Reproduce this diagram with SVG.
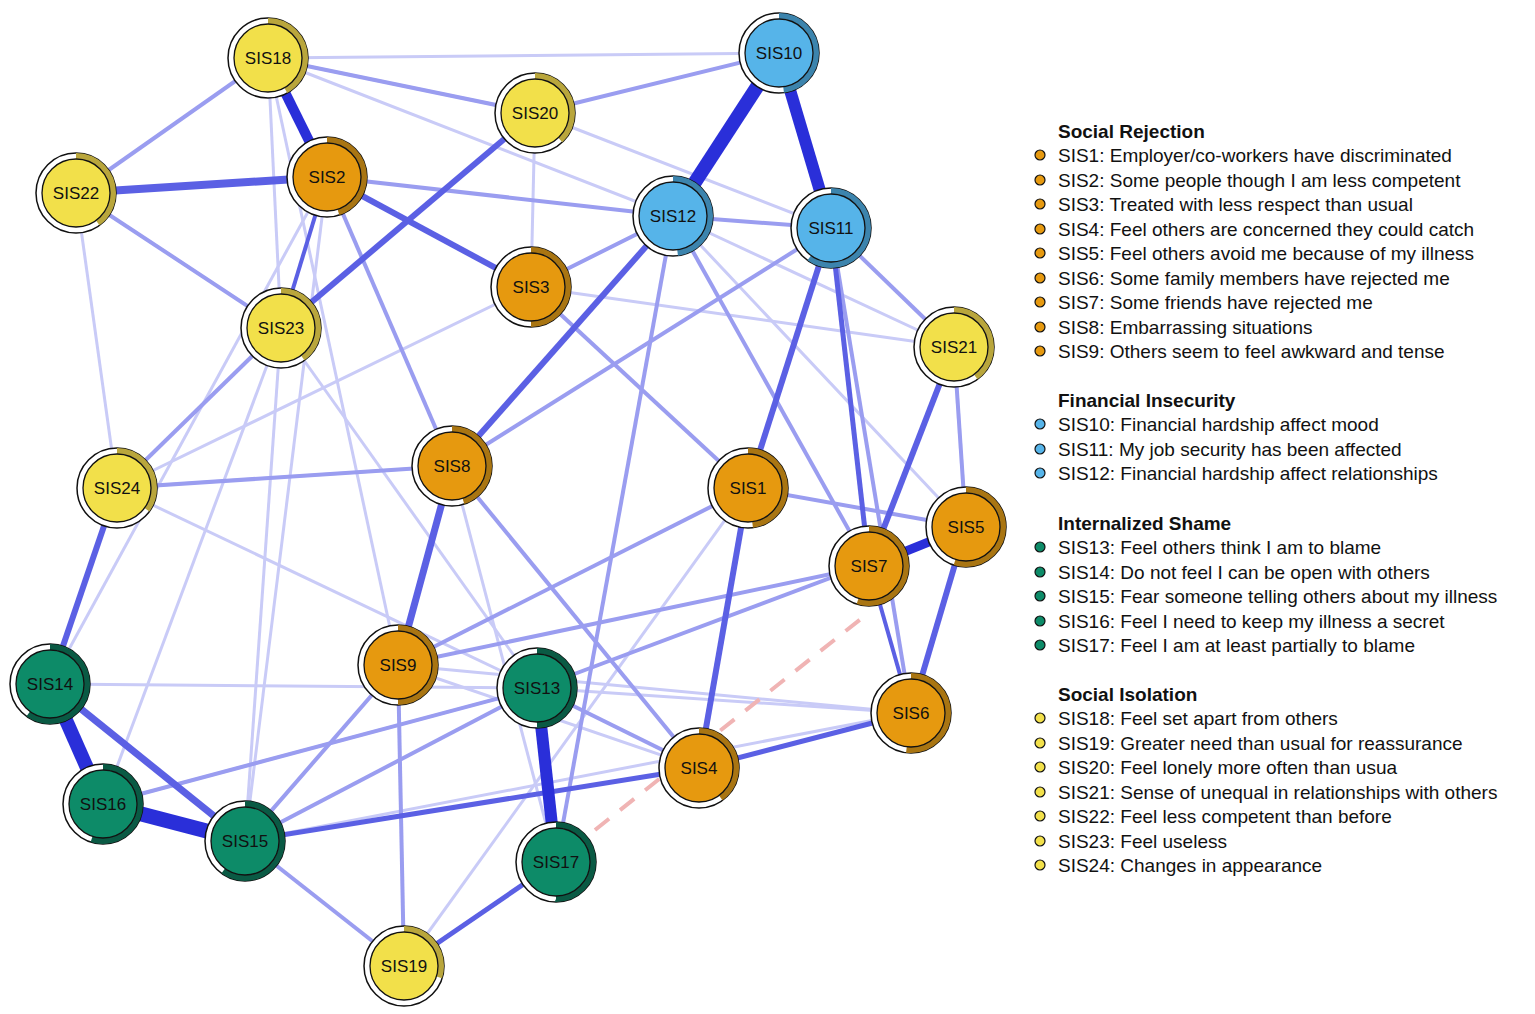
<svg xmlns="http://www.w3.org/2000/svg" width="1535" height="1014" viewBox="0 0 1535 1014">
<style>
text{font-family:"Liberation Sans",Arial,sans-serif;fill:#111}
.lbl{font-size:17px;text-anchor:middle;dominant-baseline:central}
.ring{fill:#fff;stroke:#111;stroke-width:1.5}
.arc{fill:none;stroke-width:6}
.in{stroke:#111;stroke-width:1.3}
.y .in{fill:#f2e04a}.y .arc{stroke:#b9a63c}
.o .in{fill:#e6990f}.o .arc{stroke:#a97512}
.b .in{fill:#56b4e9}.b .arc{stroke:#3c84ad}
.g .in{fill:#0d8b68}.g .arc{stroke:#0a5a44}
.s{stroke:#2a2fd9;stroke-linecap:butt}
.m{stroke:#5b60e4}
.l{stroke:#9a9df0}
.v{stroke:#c9cbf7}
.h{font-size:19px;font-weight:bold}
.t{font-size:19px}
</style>
<rect width="1535" height="1014" fill="#fff"/>
<g id="connectors" fill="none">
<g class="v" stroke-width="3">
<line x1="268" y1="58" x2="779" y2="53"/><line x1="268" y1="58" x2="673" y2="216"/><line x1="268" y1="58" x2="281" y2="328"/><line x1="268" y1="58" x2="398" y2="665"/>
<line x1="76" y1="193" x2="117" y2="488"/><line x1="76" y1="193" x2="281" y2="328"/><line x1="535" y1="113" x2="531" y2="287"/><line x1="535" y1="113" x2="831" y2="228"/>
<line x1="117" y1="488" x2="452" y2="466"/><line x1="117" y1="488" x2="537" y2="688"/><line x1="117" y1="488" x2="531" y2="287"/><line x1="281" y1="328" x2="537" y2="688"/>
<line x1="281" y1="328" x2="103" y2="804"/><line x1="327" y1="177" x2="245" y2="841"/><line x1="452" y1="466" x2="556" y2="862"/><line x1="50" y1="684" x2="537" y2="688"/>
<line x1="103" y1="804" x2="537" y2="688"/><line x1="245" y1="841" x2="911" y2="713"/><line x1="398" y1="665" x2="911" y2="713"/><line x1="537" y1="688" x2="911" y2="713"/>
<line x1="673" y1="216" x2="966" y2="527"/><line x1="748" y1="488" x2="404" y2="966"/><line x1="954" y1="347" x2="673" y2="216"/><line x1="531" y1="287" x2="954" y2="347"/>
<line x1="245" y1="841" x2="281" y2="328"/><line x1="50" y1="684" x2="327" y2="177"/><line x1="268" y1="58" x2="535" y2="113"/><line x1="699" y1="768" x2="398" y2="665"/>
</g>
<g class="l" stroke-width="4">
<line x1="268" y1="58" x2="76" y2="193"/><line x1="268" y1="58" x2="535" y2="113"/><line x1="535" y1="113" x2="779" y2="53"/><line x1="76" y1="193" x2="281" y2="328"/>
<line x1="327" y1="177" x2="673" y2="216"/><line x1="531" y1="287" x2="673" y2="216"/><line x1="673" y1="216" x2="831" y2="228"/><line x1="673" y1="216" x2="556" y2="862"/>
<line x1="531" y1="287" x2="748" y2="488"/><line x1="327" y1="177" x2="452" y2="466"/><line x1="452" y1="466" x2="699" y2="768"/><line x1="748" y1="488" x2="966" y2="527"/>
<line x1="831" y1="228" x2="911" y2="713"/><line x1="831" y1="228" x2="954" y2="347"/><line x1="954" y1="347" x2="966" y2="527"/><line x1="869" y1="566" x2="398" y2="665"/>
<line x1="966" y1="527" x2="537" y2="688"/><line x1="398" y1="665" x2="245" y2="841"/><line x1="537" y1="688" x2="245" y2="841"/><line x1="398" y1="665" x2="404" y2="966"/>
<line x1="537" y1="688" x2="699" y2="768"/><line x1="673" y1="216" x2="869" y2="566"/><line x1="117" y1="488" x2="281" y2="328"/><line x1="452" y1="466" x2="117" y2="488"/>
<line x1="103" y1="804" x2="537" y2="688"/><line x1="245" y1="841" x2="404" y2="966"/><line x1="831" y1="228" x2="452" y2="466"/><line x1="748" y1="488" x2="398" y2="665"/>
</g>
<g class="m" stroke-width="6">
<line x1="76" y1="193" x2="327" y2="177" stroke-width="8"/><line x1="327" y1="177" x2="531" y2="287"/><line x1="535" y1="113" x2="281" y2="328"/><line x1="673" y1="216" x2="452" y2="466"/>
<line x1="452" y1="466" x2="398" y2="665" stroke-width="7"/><line x1="831" y1="228" x2="748" y2="488"/><line x1="748" y1="488" x2="699" y2="768"/><line x1="954" y1="347" x2="869" y2="566"/>
<line x1="966" y1="527" x2="911" y2="713"/><line x1="117" y1="488" x2="50" y2="684"/><line x1="50" y1="684" x2="245" y2="841" stroke-width="7"/><line x1="245" y1="841" x2="699" y2="768" stroke-width="5"/>
<line x1="831" y1="228" x2="869" y2="566" stroke-width="5"/><line x1="327" y1="177" x2="281" y2="328" stroke-width="4"/><line x1="556" y1="862" x2="404" y2="966" stroke-width="5"/><line x1="699" y1="768" x2="911" y2="713" stroke-width="5"/>
<line x1="869" y1="566" x2="911" y2="713" stroke-width="4"/>
</g>
<g class="s">
<line x1="779" y1="53" x2="673" y2="216" stroke-width="14"/><line x1="779" y1="53" x2="831" y2="228" stroke-width="12"/><line x1="50" y1="684" x2="103" y2="804" stroke-width="14"/>
<line x1="103" y1="804" x2="245" y2="841" stroke-width="15"/><line x1="537" y1="688" x2="556" y2="862" stroke-width="12"/><line x1="268" y1="58" x2="327" y2="177" stroke-width="10"/>
<line x1="869" y1="566" x2="966" y2="527" stroke-width="9"/>
</g>
<line x1="595" y1="830" x2="862" y2="618" stroke="#f0b4b4" stroke-width="4" stroke-dasharray="18 14"/>
</g>
<g id="SIS1" class="o"><circle class="ring" cx="748" cy="488" r="40"/><circle class="arc" cx="748" cy="488" r="37" pathLength="100" stroke-dasharray="48 100" transform="rotate(-90 748 488)"/><circle class="in" cx="748" cy="488" r="34"/><text class="lbl" x="748" y="488">SIS1</text></g>
<g id="SIS2" class="o"><circle class="ring" cx="327" cy="177" r="40"/><circle class="arc" cx="327" cy="177" r="37" pathLength="100" stroke-dasharray="45 100" transform="rotate(-90 327 177)"/><circle class="in" cx="327" cy="177" r="34"/><text class="lbl" x="327" y="177">SIS2</text></g>
<g id="SIS3" class="o"><circle class="ring" cx="531" cy="287" r="40"/><circle class="arc" cx="531" cy="287" r="37" pathLength="100" stroke-dasharray="50 100" transform="rotate(-90 531 287)"/><circle class="in" cx="531" cy="287" r="34"/><text class="lbl" x="531" y="287">SIS3</text></g>
<g id="SIS4" class="o"><circle class="ring" cx="699" cy="768" r="40"/><circle class="arc" cx="699" cy="768" r="37" pathLength="100" stroke-dasharray="40 100" transform="rotate(-90 699 768)"/><circle class="in" cx="699" cy="768" r="34"/><text class="lbl" x="699" y="768">SIS4</text></g>
<g id="SIS5" class="o"><circle class="ring" cx="966" cy="527" r="40"/><circle class="arc" cx="966" cy="527" r="37" pathLength="100" stroke-dasharray="55 100" transform="rotate(-90 966 527)"/><circle class="in" cx="966" cy="527" r="34"/><text class="lbl" x="966" y="527">SIS5</text></g>
<g id="SIS6" class="o"><circle class="ring" cx="911" cy="713" r="40"/><circle class="arc" cx="911" cy="713" r="37" pathLength="100" stroke-dasharray="52 100" transform="rotate(-90 911 713)"/><circle class="in" cx="911" cy="713" r="34"/><text class="lbl" x="911" y="713">SIS6</text></g>
<g id="SIS7" class="o"><circle class="ring" cx="869" cy="566" r="40"/><circle class="arc" cx="869" cy="566" r="37" pathLength="100" stroke-dasharray="55 100" transform="rotate(-90 869 566)"/><circle class="in" cx="869" cy="566" r="34"/><text class="lbl" x="869" y="566">SIS7</text></g>
<g id="SIS8" class="o"><circle class="ring" cx="452" cy="466" r="40"/><circle class="arc" cx="452" cy="466" r="37" pathLength="100" stroke-dasharray="45 100" transform="rotate(-90 452 466)"/><circle class="in" cx="452" cy="466" r="34"/><text class="lbl" x="452" y="466">SIS8</text></g>
<g id="SIS9" class="o"><circle class="ring" cx="398" cy="665" r="40"/><circle class="arc" cx="398" cy="665" r="37" pathLength="100" stroke-dasharray="50 100" transform="rotate(-90 398 665)"/><circle class="in" cx="398" cy="665" r="34"/><text class="lbl" x="398" y="665">SIS9</text></g>
<g id="SIS10" class="b"><circle class="ring" cx="779" cy="53" r="40"/><circle class="arc" cx="779" cy="53" r="37" pathLength="100" stroke-dasharray="48 100" transform="rotate(-90 779 53)"/><circle class="in" cx="779" cy="53" r="34"/><text class="lbl" x="779" y="53">SIS10</text></g>
<g id="SIS11" class="b"><circle class="ring" cx="831" cy="228" r="40"/><circle class="arc" cx="831" cy="228" r="37" pathLength="100" stroke-dasharray="60 100" transform="rotate(-90 831 228)"/><circle class="in" cx="831" cy="228" r="34"/><text class="lbl" x="831" y="228">SIS11</text></g>
<g id="SIS12" class="b"><circle class="ring" cx="673" cy="216" r="40"/><circle class="arc" cx="673" cy="216" r="37" pathLength="100" stroke-dasharray="48 100" transform="rotate(-90 673 216)"/><circle class="in" cx="673" cy="216" r="34"/><text class="lbl" x="673" y="216">SIS12</text></g>
<g id="SIS13" class="g"><circle class="ring" cx="537" cy="688" r="40"/><circle class="arc" cx="537" cy="688" r="37" pathLength="100" stroke-dasharray="50 100" transform="rotate(-90 537 688)"/><circle class="in" cx="537" cy="688" r="34"/><text class="lbl" x="537" y="688">SIS13</text></g>
<g id="SIS14" class="g"><circle class="ring" cx="50" cy="684" r="40"/><circle class="arc" cx="50" cy="684" r="37" pathLength="100" stroke-dasharray="60 100" transform="rotate(-90 50 684)"/><circle class="in" cx="50" cy="684" r="34"/><text class="lbl" x="50" y="684">SIS14</text></g>
<g id="SIS15" class="g"><circle class="ring" cx="245" cy="841" r="40"/><circle class="arc" cx="245" cy="841" r="37" pathLength="100" stroke-dasharray="60 100" transform="rotate(-90 245 841)"/><circle class="in" cx="245" cy="841" r="34"/><text class="lbl" x="245" y="841">SIS15</text></g>
<g id="SIS16" class="g"><circle class="ring" cx="103" cy="804" r="40"/><circle class="arc" cx="103" cy="804" r="37" pathLength="100" stroke-dasharray="55 100" transform="rotate(-90 103 804)"/><circle class="in" cx="103" cy="804" r="34"/><text class="lbl" x="103" y="804">SIS16</text></g>
<g id="SIS17" class="g"><circle class="ring" cx="556" cy="862" r="40"/><circle class="arc" cx="556" cy="862" r="37" pathLength="100" stroke-dasharray="50 100" transform="rotate(-90 556 862)"/><circle class="in" cx="556" cy="862" r="34"/><text class="lbl" x="556" y="862">SIS17</text></g>
<g id="SIS18" class="y"><circle class="ring" cx="268" cy="58" r="40"/><circle class="arc" cx="268" cy="58" r="37" pathLength="100" stroke-dasharray="42 100" transform="rotate(-90 268 58)"/><circle class="in" cx="268" cy="58" r="34"/><text class="lbl" x="268" y="58">SIS18</text></g>
<g id="SIS19" class="y"><circle class="ring" cx="404" cy="966" r="40"/><circle class="arc" cx="404" cy="966" r="37" pathLength="100" stroke-dasharray="30 100" transform="rotate(-90 404 966)"/><circle class="in" cx="404" cy="966" r="34"/><text class="lbl" x="404" y="966">SIS19</text></g>
<g id="SIS20" class="y"><circle class="ring" cx="535" cy="113" r="40"/><circle class="arc" cx="535" cy="113" r="37" pathLength="100" stroke-dasharray="38 100" transform="rotate(-90 535 113)"/><circle class="in" cx="535" cy="113" r="34"/><text class="lbl" x="535" y="113">SIS20</text></g>
<g id="SIS21" class="y"><circle class="ring" cx="954" cy="347" r="40"/><circle class="arc" cx="954" cy="347" r="37" pathLength="100" stroke-dasharray="40 100" transform="rotate(-90 954 347)"/><circle class="in" cx="954" cy="347" r="34"/><text class="lbl" x="954" y="347">SIS21</text></g>
<g id="SIS22" class="y"><circle class="ring" cx="76" cy="193" r="40"/><circle class="arc" cx="76" cy="193" r="37" pathLength="100" stroke-dasharray="40 100" transform="rotate(-90 76 193)"/><circle class="in" cx="76" cy="193" r="34"/><text class="lbl" x="76" y="193">SIS22</text></g>
<g id="SIS23" class="y"><circle class="ring" cx="281" cy="328" r="40"/><circle class="arc" cx="281" cy="328" r="37" pathLength="100" stroke-dasharray="40 100" transform="rotate(-90 281 328)"/><circle class="in" cx="281" cy="328" r="34"/><text class="lbl" x="281" y="328">SIS23</text></g>
<g id="SIS24" class="y"><circle class="ring" cx="117" cy="488" r="40"/><circle class="arc" cx="117" cy="488" r="37" pathLength="100" stroke-dasharray="35 100" transform="rotate(-90 117 488)"/><circle class="in" cx="117" cy="488" r="34"/><text class="lbl" x="117" y="488">SIS24</text></g>
<g id="legend">
<g stroke="#111" stroke-width="1.2">
<g fill="#e6990f"><circle cx="1040" cy="155" r="5"/><circle cx="1040" cy="180" r="5"/><circle cx="1040" cy="204" r="5"/><circle cx="1040" cy="229" r="5"/><circle cx="1040" cy="253" r="5"/><circle cx="1040" cy="278" r="5"/><circle cx="1040" cy="302" r="5"/><circle cx="1040" cy="327" r="5"/><circle cx="1040" cy="351" r="5"/></g>
<g fill="#56b4e9"><circle cx="1040" cy="424" r="5"/><circle cx="1040" cy="449" r="5"/><circle cx="1040" cy="473" r="5"/></g>
<g fill="#0d8b68"><circle cx="1040" cy="547" r="5"/><circle cx="1040" cy="572" r="5"/><circle cx="1040" cy="596" r="5"/><circle cx="1040" cy="621" r="5"/><circle cx="1040" cy="645" r="5"/></g>
<g fill="#f2e04a"><circle cx="1040" cy="718" r="5"/><circle cx="1040" cy="743" r="5"/><circle cx="1040" cy="767" r="5"/><circle cx="1040" cy="792" r="5"/><circle cx="1040" cy="816" r="5"/><circle cx="1040" cy="841" r="5"/><circle cx="1040" cy="865" r="5"/></g>
</g>
<g dominant-baseline="central">
<text class="h" x="1058" y="131">Social Rejection</text>
<text class="t" x="1058" y="155">SIS1: Employer/co-workers have discriminated</text>
<text class="t" x="1058" y="180">SIS2: Some people though I am less competent</text>
<text class="t" x="1058" y="204">SIS3: Treated with less respect than usual</text>
<text class="t" x="1058" y="229">SIS4: Feel others are concerned they could catch</text>
<text class="t" x="1058" y="253">SIS5: Feel others avoid me because of my illness</text>
<text class="t" x="1058" y="278">SIS6: Some family members have rejected me</text>
<text class="t" x="1058" y="302">SIS7: Some friends have rejected me</text>
<text class="t" x="1058" y="327">SIS8: Embarrassing situations</text>
<text class="t" x="1058" y="351">SIS9: Others seem to feel awkward and tense</text>
<text class="h" x="1058" y="400">Financial Insecurity</text>
<text class="t" x="1058" y="424">SIS10: Financial hardship affect mood</text>
<text class="t" x="1058" y="449">SIS11: My job security has been affected</text>
<text class="t" x="1058" y="473">SIS12: Financial hardship affect relationships</text>
<text class="h" x="1058" y="523">Internalized Shame</text>
<text class="t" x="1058" y="547">SIS13: Feel others think I am to blame</text>
<text class="t" x="1058" y="572">SIS14: Do not feel I can be open with others</text>
<text class="t" x="1058" y="596">SIS15: Fear someone telling others about my illness</text>
<text class="t" x="1058" y="621">SIS16: Feel I need to keep my illness a secret</text>
<text class="t" x="1058" y="645">SIS17: Feel I am at least partially to blame</text>
<text class="h" x="1058" y="694">Social Isolation</text>
<text class="t" x="1058" y="718">SIS18: Feel set apart from others</text>
<text class="t" x="1058" y="743">SIS19: Greater need than usual for reassurance</text>
<text class="t" x="1058" y="767">SIS20: Feel lonely more often than usua</text>
<text class="t" x="1058" y="792">SIS21: Sense of unequal in relationships with others</text>
<text class="t" x="1058" y="816">SIS22: Feel less competent than before</text>
<text class="t" x="1058" y="841">SIS23: Feel useless</text>
<text class="t" x="1058" y="865">SIS24: Changes in appearance</text>
</g>
</g>
</svg>
